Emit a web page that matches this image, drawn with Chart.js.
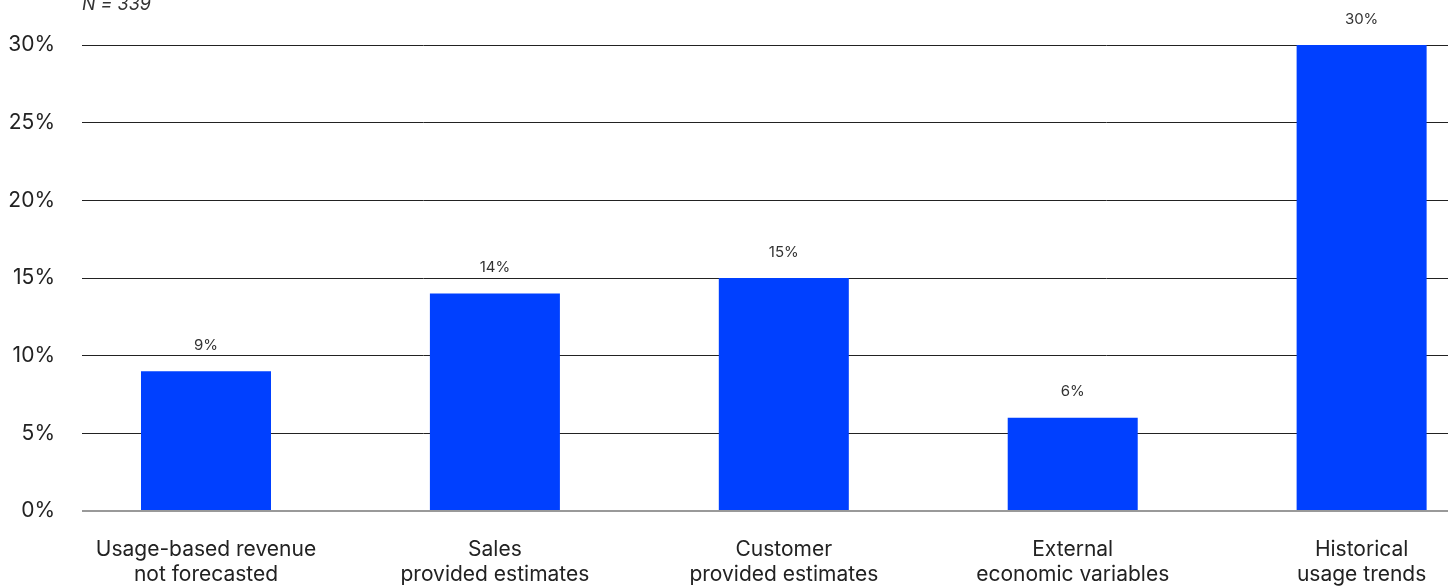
<!DOCTYPE html>
<html>
<head>
<meta charset="utf-8">
<title>Forecasting inputs</title>
<script src="https://cdn.jsdelivr.net/npm/chart.js@4/dist/chart.umd.min.js"></script>
<style>
  html, body { margin: 0; padding: 0; background: #fff; overflow: hidden; }
  canvas { display: block; }
</style>
</head>
<body>
<canvas id="chart" width="1455" height="586"></canvas>
<script>
// categories and values (percent of respondents)
const categories = [
    ['Usage-based revenue', 'not forecasted'],
    ['Sales', 'provided estimates'],
    ['Customer', 'provided estimates'],
    ['External', 'economic variables'],
    ['Historical', 'usage trends']
];
const shares = [9, 14, 15, 6, 30];
const yTicks = [0, 5, 10, 15, 20, 25, 30];
const sampleNote = 'N = 339';

const FONT = 'Inter, "Liberation Sans", Arial, sans-serif';
const BLUE = '#0040ff';

// value labels above each bar plus the sample size note
const annotate = {
    id: 'annotate',
    afterDatasetsDraw(chart) {
        const ctx = chart.ctx;
        const meta = chart.getDatasetMeta(0);
        ctx.save();
        ctx.fillStyle = '#333';
        ctx.font = '15px ' + FONT;
        ctx.textAlign = 'center';
        ctx.textBaseline = 'middle';
        meta.data.forEach((bar, i) => {
            ctx.fillText(shares[i] + '%', bar.x, bar.y - 26);
        });
        ctx.font = 'italic 18px ' + FONT;
        ctx.textAlign = 'left';
        ctx.textBaseline = 'alphabetic';
        ctx.fillText(sampleNote, chart.chartArea.left, 10);
        ctx.restore();
    }
};

new Chart(document.getElementById('chart'), {
    type: 'bar',
    data: {
        datasets: [{
            data: shares.map((v, i) => ({ x: i, y: v })),
            backgroundColor: BLUE,
            borderWidth: 0,
            barPercentage: 0.45,
            categoryPercentage: 1
        }]
    },
    options: {
        responsive: false,
        animation: false,
        layout: { padding: { top: 45, right: 7, left: 0, bottom: 0 } },
        plugins: {
            legend: { display: false },
            tooltip: { enabled: false }
        },
        scales: {
            x: {
                type: 'linear',
                offset: false,
                min: -0.4292,
                max: 4.299,
                grid: { display: false, offset: false },
                border: { display: false },
                afterFit(scale) { scale.height = 75; },
                afterBuildTicks(scale) {
                    scale.ticks = categories.map((c, i) => ({ value: i }));
                },
                ticks: {
                    autoSkip: false,
                    maxRotation: 0,
                    padding: 18,
                    color: '#222',
                    font: { family: FONT, size: 21, lineHeight: 1.2 },
                    callback: (v) => categories[v]
                }
            },
            y: {
                min: 0,
                max: 30,
                afterFit(scale) { scale.width = 82; },
                afterBuildTicks(scale) {
                    scale.ticks = yTicks.map(v => ({ value: v }));
                },
                border: { display: false },
                grid: {
                    drawTicks: false,
                    color: (c) => c.tick && c.tick.value === 0 ? '#999' : '#222',
                    lineWidth: (c) => c.tick && c.tick.value === 0 ? 2 : 1
                },
                ticks: {
                    padding: 27,
                    color: '#222',
                    font: { family: FONT, size: 21 },
                    callback: (v) => v + '%'
                }
            }
        }
    },
    plugins: [annotate]
});
</script>
</body>
</html>
